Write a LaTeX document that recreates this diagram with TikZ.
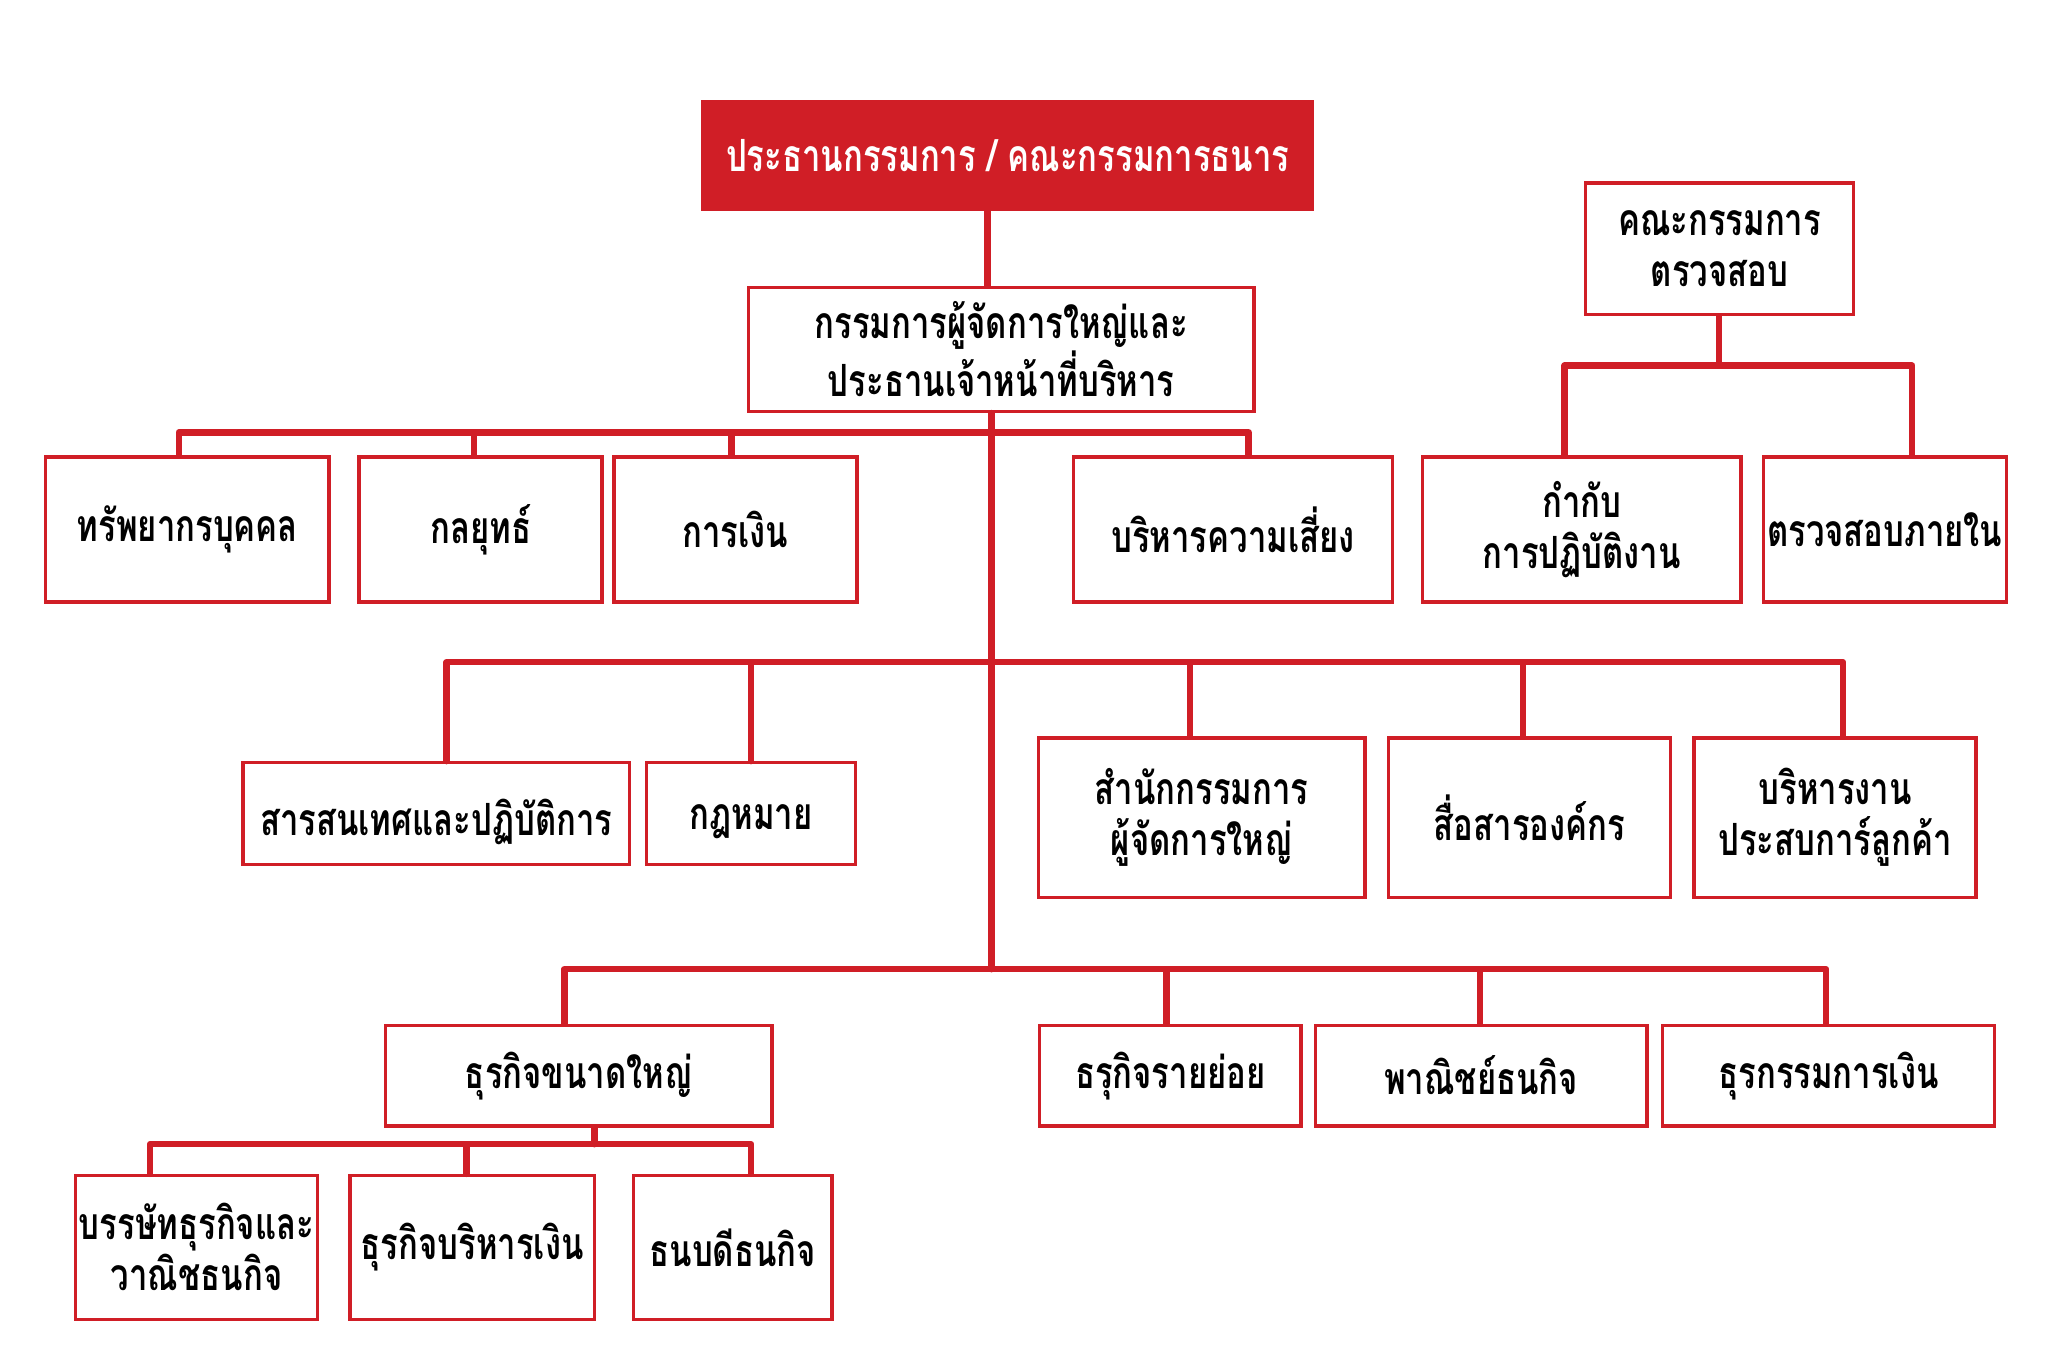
\documentclass[tikz,border=0pt]{standalone}
\usepackage{fontspec}
\newfontfamily\thaifont[Script=Thai, FakeStretch=0.74]{Loma}
\usetikzlibrary{positioning}
\definecolor{cred}{RGB}{208,30,38}
\newcommand\lowtext[1]{\raisebox{-6pt}[\height][\depth]{#1}}
\begin{document}
\begin{tikzpicture}[x=1pt,y=-1pt,
  box/.style={draw=cred, line width=2.6pt, fill=white, align=center, inner sep=0pt,
    font=\thaifont\bfseries\fontsize{34}{39}\selectfont},
  topbox/.style={box, fill=cred, text=white},
  conn/.style={draw=cred, line width=5pt, line join=round, line cap=round}]
\useasboundingbox (0,0) rectangle (1568,1044);
\fill[white] (0,0) rectangle (1568,1044);
% nodes
\node[topbox, minimum width=467, minimum height=82] (top) at (771.5,119) {ประธานกรรมการ / คณะกรรมการธนาร};
\node[box, minimum width=387, minimum height=95] (ceo) at (766.5,267.5) {กรรมการผู้จัดการใหญ่และ\\ประธานเจ้าหน้าที่บริหาร};
\node[box, minimum width=217, minimum height=111] (hr) at (143.5,405.5) {ทรัพยากรบุคคล};
\node[box, minimum width=186, minimum height=111] (strat) at (368,405.5) {กลยุทธ์};
\node[box, minimum width=186, minimum height=111] (fin) at (563,405.5) {การเงิน};
\node[box, minimum width=244, minimum height=111] (risk) at (944,405.5) {บริหารความเสี่ยง};
\node[box, minimum width=205, minimum height=101] (audit) at (1316.5,190.5) {คณะกรรมการ\\ตรวจสอบ};
\node[box, minimum width=244, minimum height=111] (comp) at (1211,405.5) {กำกับ\\การปฏิบัติงาน};
\node[box, minimum width=186, minimum height=111] (ia) at (1443,405.5) {ตรวจสอบภายใน};
\node[box, minimum width=296, minimum height=78] (it) at (334,623) {\lowtext{สารสนเทศและปฏิบัติการ}};
\node[box, minimum width=160, minimum height=78] (law) at (575,623) {\lowtext{กฎหมาย}};
\node[box, minimum width=250, minimum height=122] (office) at (920,626) {สำนักกรรมการ\\ผู้จัดการใหญ่};
\node[box, minimum width=216, minimum height=122] (comm) at (1171,626) {สื่อสารองค์กร};
\node[box, minimum width=216, minimum height=122] (cx) at (1405,626) {บริหารงาน\\ประสบการ์ลูกค้า};
\node[box, minimum width=296, minimum height=77] (corp) at (443,823.5) {ธุรกิจขนาดใหญ่};
\node[box, minimum width=200, minimum height=77] (retail) at (896,823.5) {ธรุกิจรายย่อย};
\node[box, minimum width=254, minimum height=77] (comb) at (1134,823.5) {พาณิชย์ธนกิจ};
\node[box, minimum width=254, minimum height=77] (txn) at (1400,823.5) {ธุรกรรมการเงิน};
\node[box, minimum width=185, minimum height=110] (ib) at (150.5,955) {บรรษัทธุรกิจและ\\วาณิชธนกิจ};
\node[box, minimum width=187, minimum height=110] (tre) at (361.5,955) {ธุรกิจบริหารเงิน};
\node[box, minimum width=152, minimum height=110] (wealth) at (561,955) {ธนบดีธนกิจ};
% junctions
\coordinate (j1) at (759,331);
\coordinate (j2) at (759,507);
\coordinate (j3) at (759,742);
\coordinate (j4) at (455,876);
\coordinate (ja) at (1316,280);
% connectors
\draw[conn] ([xshift=-15.5]top.south) -- ([xshift=-10.5]ceo.north);
\draw[conn] ([xshift=-7.5]ceo.south) -- (j3);
\draw[conn] ([xshift=-6.5]hr.north) |- (j1);
\draw[conn] ([xshift=-5]strat.north) |- (j1);
\draw[conn] ([xshift=-3]fin.north) |- (j1);
\draw[conn] ([xshift=12]risk.north) |- (j1);
\draw[conn] ([xshift=8]it.north) |- (j2);
\draw[conn] (law.north) |- (j2);
\draw[conn] ([xshift=-9]office.north) |- (j2);
\draw[conn] ([xshift=-5]comm.north) |- (j2);
\draw[conn] ([xshift=6]cx.north) |- (j2);
\draw[conn] ([xshift=-11]corp.north) |- (j3);
\draw[conn] ([xshift=-3]retail.north) |- (j3);
\draw[conn] ([xshift=-1]comb.north) |- (j3);
\draw[conn] ([xshift=-2]txn.north) |- (j3);
\draw[conn] ([xshift=12]corp.south) -- (j4);
\draw[conn] ([xshift=-35.5]ib.north) |- (j4);
\draw[conn] ([xshift=-4.5]tre.north) |- (j4);
\draw[conn] ([xshift=14]wealth.north) |- (j4);
\draw[conn] ([xshift=-0.5]audit.south) -- (ja);
\draw[conn] ([xshift=-13]comp.north) |- (ja);
\draw[conn] ([xshift=21]ia.north) |- (ja);
\end{tikzpicture}
\end{document}
